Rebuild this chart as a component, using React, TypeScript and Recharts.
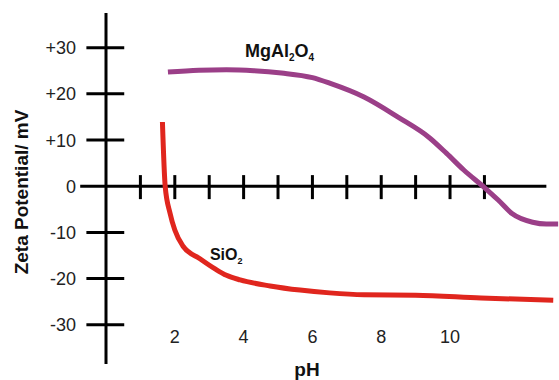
import { LineChart, Line, XAxis, YAxis, ReferenceLine, ReferenceDot } from 'recharts'

// MgAl2O4 zeta potential vs pH
const phMg = [1.8, 2.7, 3.5, 4.3, 5.1, 6.0, 6.5, 7.5, 8.5, 9.4, 9.9, 10.4, 11.0, 11.4, 11.8, 12.4, 12.8, 13.15]
const zetaMg = [24.7, 25.1, 25.2, 25.0, 24.5, 23.5, 22.3, 19.3, 14.9, 10.5, 7.1, 3.5, -0.3, -3.0, -5.9, -7.8, -8.2, -8.2]

// SiO2 zeta potential vs pH
const phSi = [1.64, 1.72, 1.86, 2.0, 2.24, 2.73, 3.17, 3.5, 3.9, 4.77, 5.64, 6.5, 7.5, 9.0, 10.9, 13.0]
const zetaSi = [13.9, 0, -5.8, -9.5, -13.0, -15.7, -17.9, -19.3, -20.3, -21.6, -22.5, -23.1, -23.5, -23.6, -24.2, -24.7]

const xLabels = [2, 4, 6, 8, 10]
const yLabels = [-30, -20, -10, 0, 10, 20, 30]
const xTickMarks = [1, 2, 3, 4, 5, 6, 7, 8, 9, 10, 11]

const mgData = phMg.map((ph, i) => ({ ph, zeta: zetaMg[i] }))
const siData = phSi.map((ph, i) => ({ ph, zeta: zetaSi[i] }))

const font = 'Liberation Sans, Arial, sans-serif'
const X_DOMAIN: [number, number] = [-1, 13.15]
const Y_DOMAIN: [number, number] = [-38.5, 37.5]

export default function App() {
  return (
    <div style={{ position: 'absolute', left: 0, top: 0, background: 'white' }}>
      <LineChart width={559} height={380} margin={{ top: 13, right: 0.6, bottom: 0, left: 0 }}>
        <XAxis type='number' dataKey='ph' domain={X_DOMAIN} ticks={xLabels} allowDataOverflow
          axisLine={false} tickLine={false} height={16}
          tick={(p: any) => (
            <text x={p.x} y={343} textAnchor='middle' fontSize={18} fontFamily={font} fill='#222'>
              {p.payload.value}
            </text>
          )}
          label={{ content: () => (
            <text x={307} y={376} textAnchor='middle' fontSize={19} fontWeight='bold' fontFamily={font} fill='#111'>pH</text>
          ) }} />
        <YAxis type='number' domain={Y_DOMAIN} ticks={yLabels} allowDataOverflow
          axisLine={false} tickLine={false} width={71.6}
          tick={(p: any) => {
            const v = p.payload.value
            return (
              <text x={76} y={p.y} dy={6.5} textAnchor='end' fontSize={18} fontFamily={font} fill='#222'>
                {v > 0 ? '+' + v : String(v)}
              </text>
            )
          }}
          label={{ content: () => (
            <text transform='translate(28,192) rotate(-90)' textAnchor='middle' fontSize={19}
              fontWeight='bold' fontFamily={font} fill='#111'>Zeta Potential/ mV</text>
          ) }} />

        {/* axes drawn as crossing lines */}
        <ReferenceLine segment={[{ x: 0, y: -38.5 }, { x: 0, y: 37.5 }]} stroke='#000' strokeWidth={3} />
        <ReferenceLine segment={[{ x: -0.75, y: 0 }, { x: 12.8, y: 0 }]} stroke='#000' strokeWidth={3} />
        {yLabels.filter(v => v !== 0).map(v => (
          <ReferenceLine key={'yt' + v} segment={[{ x: -0.57, y: v }, { x: 0.53, y: v }]} stroke='#000' strokeWidth={3} />
        ))}
        {xTickMarks.map(v => (
          <ReferenceLine key={'xt' + v} segment={[{ x: v, y: 2.4 }, { x: v, y: -2.8 }]} stroke='#000' strokeWidth={3} />
        ))}

        <Line data={mgData} dataKey='zeta' type='monotone' stroke='#9b3f88' strokeWidth={5}
          dot={false} isAnimationActive={false} />
        <Line data={siData} dataKey='zeta' type='monotone' stroke='#e0261e' strokeWidth={5}
          dot={false} isAnimationActive={false} />

        <ReferenceDot x={4.04} y={27.9} r={0} fill='none' stroke='none'
          label={{ content: (p: any) => (
            <text x={p.viewBox.x} y={p.viewBox.y} fontSize={18} fontWeight='bold' fontFamily={font} fill='#111'>
              MgAl<tspan fontSize={10} dy={4}>2</tspan><tspan dy={-4}>O</tspan><tspan fontSize={10} dy={4}>4</tspan>
            </text>
          ) }} />
        <ReferenceDot x={3.02} y={-16.0} r={0} fill='none' stroke='none'
          label={{ content: (p: any) => (
            <text x={p.viewBox.x} y={p.viewBox.y} fontSize={16} fontWeight='bold' fontFamily={font} fill='#111'>
              SiO<tspan fontSize={9} dy={4}>2</tspan>
            </text>
          ) }} />
      </LineChart>
    </div>
  )
}
